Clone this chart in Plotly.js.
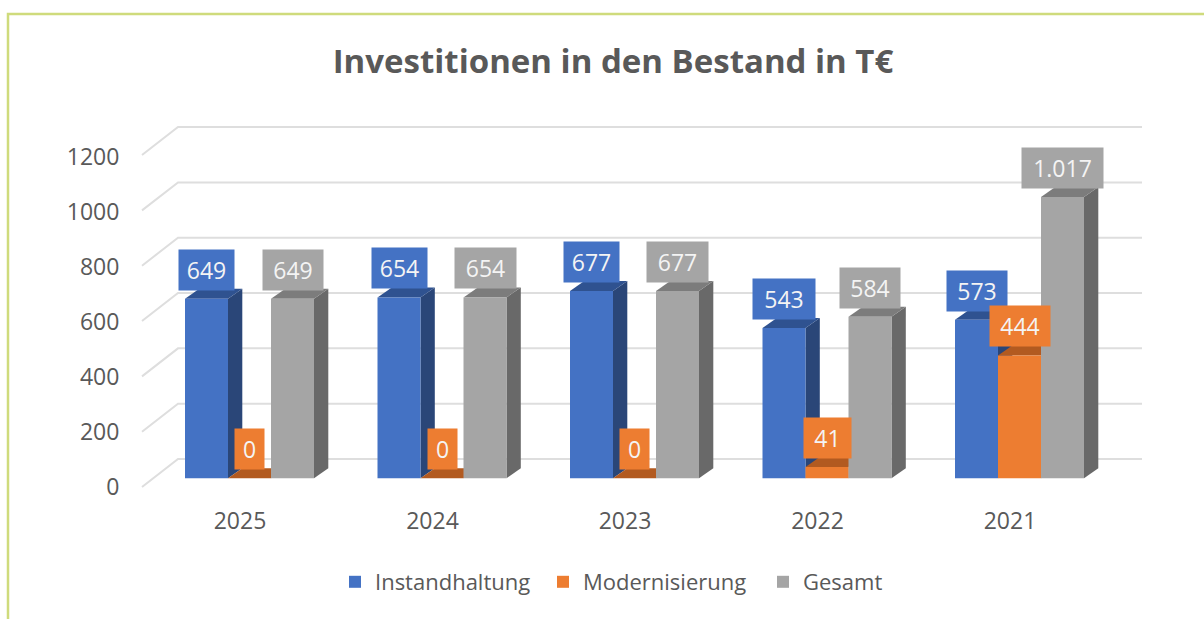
<!DOCTYPE html>
<html><head><meta charset="utf-8">
<script src="https://cdn.plot.ly/plotly-3.0.1.min.js"></script>
<style>html,body{margin:0;padding:0;background:#fff;overflow:hidden}#c{width:1204px;height:619px}</style>
</head><body><div id="c"></div>
<script>
const years = ['2025','2024','2023','2022','2021'];
const instandhaltung = [649,654,677,543,573];
const modernisierung = [0,0,0,41,444];
const gesamt = [649,654,677,584,1017];
const tickValues = [0,200,400,600,800,1000,1200];

const labelWidths = [[55,55,55,62,60],[29,29,29,47,60],[60,61,61,60,81]];

const W=1204,H=619,L=142,R=1142,T=120,B=490,floorPx=478.3,pxPerUnit=0.2766,groupPx=192.5;
const labelPx=240, barGroupPx=249.5;
const tickZeroPx=487, tickPxPerUnit=0.275;
const barW=43/groupPx, groupOff=(barGroupPx-labelPx)/groupPx;
const ux=p=>p/groupPx, uy=p=>p/pxPerUnit;
const dx=ux(14.3), dy=uy(10);
const fmt=v=>String(v).replace(/\B(?=(\d{3})+$)/g,'.');

const series=[
 {name:'Instandhaltung',y:instandhaltung,front:'#4472C4',side:'#2A4678',top:'#2F5290',legend:'legend',lx:335},
 {name:'Modernisierung',y:modernisierung,front:'#ED7D31',side:'#A8561F',top:'#B25A20',legend:'legend2',lx:543},
 {name:'Gesamt',y:gesamt,front:'#A5A5A5',side:'#696969',top:'#7C7C7C',legend:'legend3',lx:763}
];
const shapes=[];

tickValues.forEach(v=>{
  const y0=v-uy(8.7), y1=v+uy(floorPx-459);
  shapes.push({type:'path',layer:'below',xref:'paper',yref:'y',
    path:`M0,${y0} L${36/(R-L)},${y1} L1,${y1}`,line:{color:'#DEDEDE',width:2}});
});

const annotations=[];
series.forEach((s,si)=>{
  const off=groupOff+(si-1.5)*barW;
  s.y.forEach((v,i)=>{
    const xL=i+off, xR=xL+barW;
    shapes.push({type:'path',layer:'below',xref:'x',yref:'y',
      path:`M${xR},0 L${xR+dx},${dy} L${xR+dx},${v+dy} L${xR},${v} Z`,
      fillcolor:s.side,line:{width:0}});
    shapes.push({type:'path',layer:'below',xref:'x',yref:'y',
      path:`M${xL},${v} L${xL+dx},${v+dy} L${xR+dx},${v+dy} L${xR},${v} Z`,
      fillcolor:s.top,line:{width:0}});
    annotations.push({xref:'x',yref:'y',x:(xL+xR)/2,y:v,xanchor:'center',yanchor:'bottom',yshift:8,
      text:fmt(v),showarrow:false,bgcolor:s.front,width:labelWidths[si][i],height:40,borderpad:0,
      font:{family:'Open Sans',size:23,color:'#F4F4F4'}});
  });
});

const fx=p=>(p-L)/(R-L), fy=p=>(B-p)/(B-T);
shapes.push({type:'path',layer:'above',xref:'paper',yref:'paper',
  path:`M${fx(8)},${fy(619)} L${fx(8)},${fy(14)} L${fx(1204)},${fy(14)}`,line:{color:'#CFDB7C',width:2.5}});

const traces=series.map((s,si)=>({type:'bar',name:s.name,x:years,y:s.y,legend:s.legend,showlegend:true,
  width:barW,offset:groupOff+(si-1.5)*barW,marker:{color:s.front,line:{width:0}},hoverinfo:'x+y+name'}));
// Carries the value axis that holds the tick labels; draws nothing itself.
traces.push({type:'scatter',mode:'none',x:[years[0]],y:[tickValues[0]],yaxis:'y2',showlegend:false,hoverinfo:'skip'});

const legendBase=lx=>({visible:true,orientation:'h',x:fx(lx),xanchor:'left',y:fy(582),yanchor:'middle',
  font:{family:'Open Sans',size:22,color:'#595959'},bgcolor:'rgba(0,0,0,0)'});

const layout={
  width:W,height:H,margin:{l:L,r:W-R,t:T,b:H-B,pad:0},paper_bgcolor:'#fff',plot_bgcolor:'rgba(0,0,0,0)',
  barmode:'overlay',showlegend:true,
  title:{text:'<b>Investitionen in den Bestand in T€</b>',x:613/W,xanchor:'center',y:1-61/H,yanchor:'middle',
    font:{family:'Open Sans',size:33,color:'#595959'}},
  xaxis:{type:'category',categoryorder:'array',categoryarray:years,range:[(L-labelPx)/groupPx,(R-labelPx)/groupPx],
    showgrid:false,zeroline:false,showline:false,ticks:'outside',ticklen:10,tickcolor:'rgba(0,0,0,0)',
    tickfont:{family:'Open Sans',size:23,color:'#595959'}},
  yaxis:{range:[(floorPx-B)/pxPerUnit,(floorPx-T)/pxPerUnit],showticklabels:false,ticks:'',
    showgrid:false,zeroline:false,showline:false},
  yaxis2:{overlaying:'y',side:'left',anchor:'x',range:[(tickZeroPx-B)/tickPxPerUnit,(tickZeroPx-T)/tickPxPerUnit],
    tickmode:'array',tickvals:tickValues,ticktext:tickValues.map(String),
    showgrid:false,zeroline:false,showline:false,ticks:'outside',ticklen:17,tickcolor:'rgba(0,0,0,0)',
    tickfont:{family:'Open Sans',size:23,color:'#595959'}},
  legend:legendBase(series[0].lx),legend2:legendBase(series[1].lx),legend3:legendBase(series[2].lx),
  shapes,annotations
};
Plotly.newPlot('c',traces,layout,{displayModeBar:false,responsive:false});
</script></body></html>
